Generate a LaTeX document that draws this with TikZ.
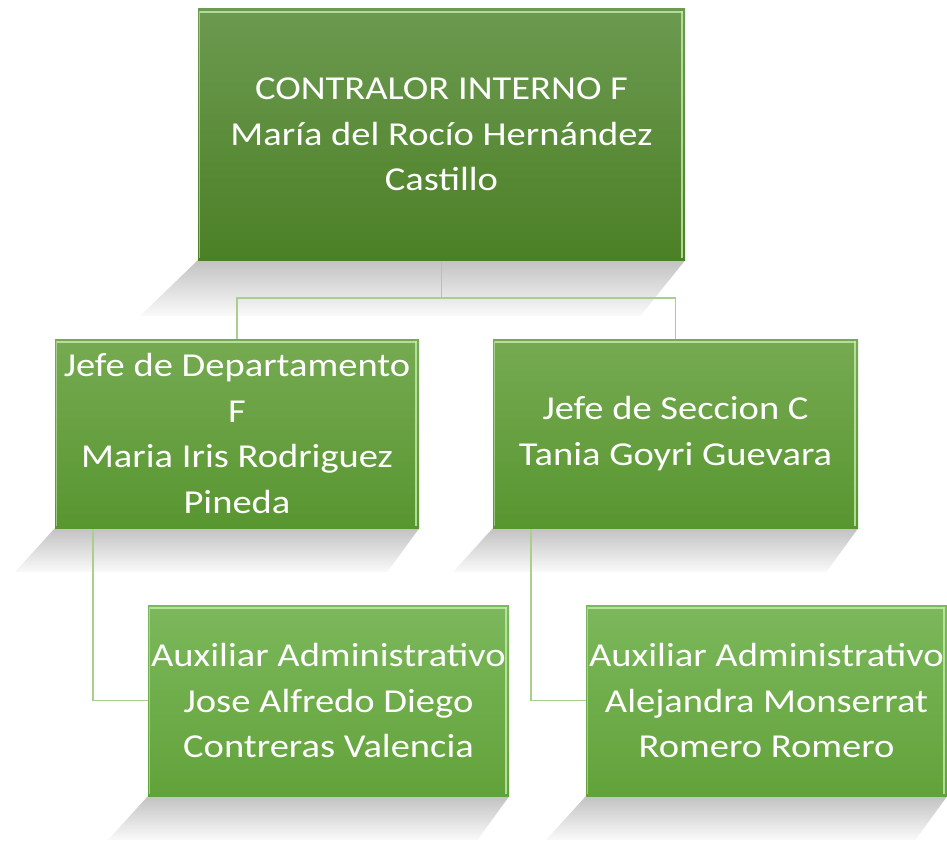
\documentclass[tikz,border=0pt]{standalone}
\usepackage{fontspec}
\setmainfont{Carlito}[FakeStretch=1.15]
\usetikzlibrary{calc}
\definecolor{t1a}{HTML}{6C9A50}
\definecolor{t1b}{HTML}{4C8026}
\definecolor{t2a}{HTML}{76AA52}
\definecolor{t2b}{HTML}{589630}
\definecolor{t3a}{HTML}{7CB85C}
\definecolor{t3b}{HTML}{62A23A}
\definecolor{linec}{HTML}{A8D08D}
\definecolor{hlc}{HTML}{C6EBAE}
\begin{document}
\begin{tikzpicture}[x=1pt,y=-1pt,
  box/.style={rectangle, inner sep=0pt, align=center, text=white,
    font=\fontsize{33.5}{45.5}\selectfont},
  lvl1/.style={box, top color=t1a, bottom color=t1b, minimum width=487pt, minimum height=251pt},
  lvl2/.style={box, top color=t2a, bottom color=t2b, minimum width=364pt, minimum height=189pt},
  lvl3/.style={box, top color=t3a, bottom color=t3b, minimum width=361pt, minimum height=191pt},
  conn/.style={draw=linec, line width=1.6pt},
  hl/.style={draw=hlc, line width=1.6pt, opacity=0.8},
  shadowc/.style={top color=black!24, bottom color=black!2}
]
\useasboundingbox (0,0) rectangle (947,843);
\coordinate (ptop) at (441.5,134.5);
\coordinate (pjd) at (237,433.5);
\coordinate (pjs) at (675.5,433.5);
\coordinate (pa1) at (328.5,700.5);
\coordinate (pa2) at (766.5,700.5);
% geometry nodes
\path node[minimum width=487pt, minimum height=251pt, inner sep=0pt] (top) at (ptop) {};
\path node[minimum width=364pt, minimum height=189pt, inner sep=0pt] (jd) at (pjd) {};
\path node[minimum width=365pt, minimum height=189pt, inner sep=0pt] (js) at (pjs) {};
\path node[minimum width=361pt, minimum height=191pt, inner sep=0pt] (a1) at (pa1) {};
\path node[minimum width=361pt, minimum height=191pt, inner sep=0pt] (a2) at (pa2) {};
% shadows
\shade[shadowc] (top.south west) -- (top.south east) -- ($(top.south east)+(-45,56)$) -- ($(top.south west)+(-58,56)$) -- cycle;
\foreach \n in {jd,js,a1,a2}{
  \shade[shadowc] (\n.south west) -- (\n.south east) -- ($(\n.south east)+(-32,44)$) -- ($(\n.south west)+(-40,44)$) -- cycle;
}
% connectors
\coordinate (bus) at (0,298);
\draw[conn] (top.south) -- (top.south |- bus);
\draw[conn] (jd.north) |- (bus -| top.south);
\draw[conn] (js.north) |- (bus -| top.south);
\draw[conn] ($(jd.south west)+(38,0)$) |- (a1.west);
\draw[conn] ($(js.south west)+(38,0)$) |- (a2.west);
% boxes
\node[lvl1] (topb) at (ptop) {CONTRALOR INTERNO F\\María del Rocío Hernández\\Castillo};
\node[lvl2, minimum width=364pt] (jdb) at (pjd) {Jefe de Departamento\\F\\Maria Iris Rodriguez\\Pineda};
\node[lvl2, minimum width=365pt] (jsb) at (pjs) {Jefe de Seccion C\\Tania Goyri Guevara};
\node[lvl3] (a1b) at (pa1) {Auxiliar Administrativo\\Jose Alfredo Diego\\Contreras Valencia};
\node[lvl3] (a2b) at (pa2) {Auxiliar Administrativo\\Alejandra Monserrat\\Romero Romero};
% bevel highlights
\foreach \n in {topb,jdb,jsb,a1b,a2b}{
  \draw[hl] ($(\n.north west)+(2,3)$) -- ($(\n.north east)+(-2,3)$);
  \draw[hl] ($(\n.north east)+(-3,2)$) -- ($(\n.south east)+(-3,-2)$);
  \draw[hlc, line width=0.8pt, opacity=0.6] ($(\n.north west)+(2,2)$) -- ($(\n.south west)+(2,-2)$);
}
\end{tikzpicture}
\end{document}
